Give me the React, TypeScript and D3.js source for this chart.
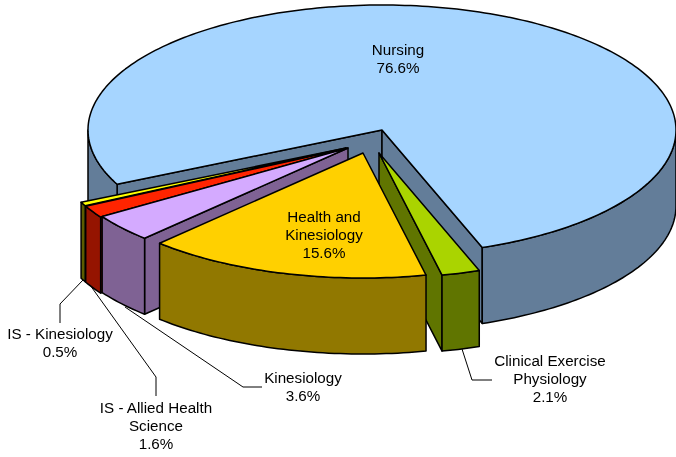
import React from "react";
import * as d3 from "d3";

const categories = ["Nursing", "Clinical Exercise Physiology", "Health and Kinesiology", "Kinesiology", "IS - Allied Health Science", "IS - Kinesiology"];
const values = [76.6, 2.1, 15.6, 3.6, 1.6, 0.5];
const topColors = ["#A6D5FF", "#AAD400", "#FFD000", "#D4AAFF", "#FF2400", "#FFFF00"];
const wallColors = ["#637D99", "#607500", "#917800", "#7F6294", "#951400", "#5C5C00"];
// per-slice explosion offset from the common pie centre
const shiftX = [0, -3, -19, -34, -35.5, -36];
const shiftY = [0, 23, 23, 18, 18.5, 18];
const drawOrder = [0, 1, 5, 4, 3, 2];

const W = 676, H = 457;
const CX = 382, CY = 130, RX = 294, RY = 125, DEPTH = 76;
const START = (244.3 * Math.PI) / 180;
const TAU = 2 * Math.PI;

const arcs = d3.pie<number>().sort(null).startAngle(START).endAngle(START + TAU)(values);

const rim = (a: number, i: number): [number, number] => [
  CX + shiftX[i] + RX * Math.sin(a),
  CY + shiftY[i] - RY * Math.cos(a),
];
const line = d3.line();
const sample = (a0: number, a1: number, i: number) => {
  const n = Math.max(2, Math.ceil(Math.abs(a1 - a0) / 0.02));
  return d3.range(n + 1).map((k) => rim(a0 + ((a1 - a0) * k) / n, i));
};
const down = (p: [number, number]): [number, number] => [p[0], p[1] + DEPTH];

// the front half of the pie runs from 90deg to 270deg, plus multiples of 360deg
const frontRanges = (a0: number, a1: number) => {
  const out: [number, number][] = [];
  for (let k = 0; k < 3; k++) {
    const lo = Math.max(a0, Math.PI / 2 + k * TAU);
    const hi = Math.min(a1, (3 * Math.PI) / 2 + k * TAU);
    if (hi > lo) out.push([lo, hi]);
  }
  return out;
};
const norm = (a: number) => ((a % TAU) + TAU) % TAU;

const stroke = { stroke: "#000", strokeWidth: 1.5, strokeLinejoin: "round" as const };

function Slice({ i }: { i: number }) {
  const { startAngle: a0, endAngle: a1 } = arcs[i];
  const apex: [number, number] = [CX + shiftX[i], CY + shiftY[i]];
  const wall = (a: number) => {
    const p = rim(a, i);
    return line([apex, p, down(p), down(apex)])! + "Z";
  };
  const top = line([apex, ...sample(a0, a1, i)])! + "Z";
  return (
    <g>
      {norm(a0) > Math.PI && <path d={wall(a0)} fill={wallColors[i]} {...stroke} />}
      {norm(a1) < Math.PI && <path d={wall(a1)} fill={wallColors[i]} {...stroke} />}
      {frontRanges(a0, a1).map(([lo, hi], k) => {
        const pts = sample(lo, hi, i);
        return <path key={k} d={line([...pts, ...pts.slice().reverse().map(down)])! + "Z"} fill={wallColors[i]} {...stroke} />;
      })}
      <path d={top} fill={topColors[i]} {...stroke} />
    </g>
  );
}

const labels = [
  { lines: ["Nursing", "76.6%"], x: 398, y: 55 },
  { lines: ["Clinical Exercise", "Physiology", "2.1%"], x: 550, y: 366 },
  { lines: ["Health and", "Kinesiology", "15.6%"], x: 324, y: 222 },
  { lines: ["Kinesiology", "3.6%"], x: 303, y: 383 },
  { lines: ["IS - Allied Health", "Science", "1.6%"], x: 156, y: 413 },
  { lines: ["IS - Kinesiology", "0.5%"], x: 60, y: 339 },
];
const leaders: [number, number][][] = [
  [[462, 349], [472, 380], [492, 380]],
  [[125, 307], [243, 387], [262, 387]],
  [[90, 285], [156, 377], [156, 396]],
  [[83, 280], [60, 304], [60, 323]],
];

export default function App() {
  return (
    <svg width={W} height={H} style={{ position: "fixed", left: 0, top: 0 }} fontFamily="'Liberation Sans', Arial, sans-serif" fontSize={15.2}>
      {drawOrder.map((i) => <Slice key={categories[i]} i={i} />)}
      {leaders.map((l, k) => <path key={k} d={line(l)!} fill="none" stroke="#000" strokeWidth={1} />)}
      {labels.map((l) => (
        <text key={l.lines[0]} x={l.x} y={l.y} textAnchor="middle" fill="#000">
          {l.lines.map((t, k) => <tspan key={k} x={l.x} dy={k ? 18 : 0}>{t}</tspan>)}
        </text>
      ))}
    </svg>
  );
}
